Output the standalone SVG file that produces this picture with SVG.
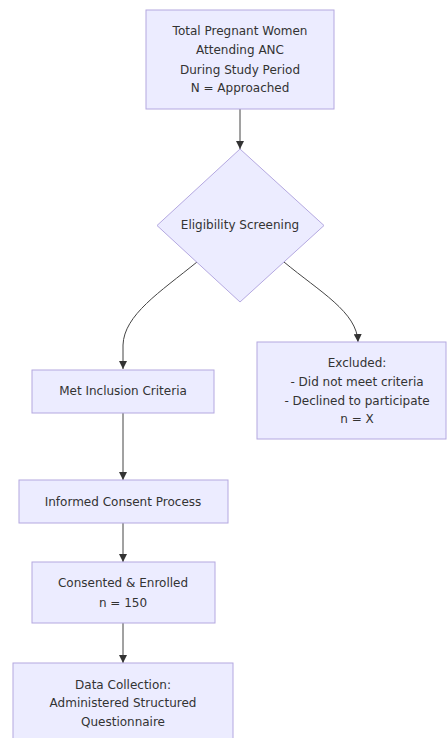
<svg xmlns="http://www.w3.org/2000/svg" width="448" height="738" viewBox="0 0 448 738">
<style>
.n{fill:#ECECFF;stroke:#B4A8E0;stroke-width:1}
.t{font-family:"DejaVu Sans",Verdana,sans-serif;font-size:12px;fill:#333;text-anchor:middle;dominant-baseline:central}
.e{fill:none;stroke:#444;stroke-width:1}
</style>
<defs>
<marker id="ah" viewBox="0 0 10 10" refX="10" refY="5" markerWidth="8" markerHeight="8" markerUnits="userSpaceOnUse" orient="auto">
<path d="M0,0 L10,5 L0,10 z" fill="#333"/>
</marker>
</defs>
<rect width="448" height="738" fill="#fff"/>
<g id="edges">
<path class="e" d="M240,109 L240,149" marker-end="url(#ah)"/>
<path class="e" d="M197,262 C160,292 124,315 123,345 L123,369" marker-end="url(#ah)"/>
<path class="e" d="M284,262 C320,292 357,312 358,342" marker-end="url(#ah)"/>
<path class="e" d="M123,413 L123,480" marker-end="url(#ah)"/>
<path class="e" d="M123,523 L123,562" marker-end="url(#ah)"/>
<path class="e" d="M123,623 L123,663" marker-end="url(#ah)"/>
</g>
<g id="total">
<rect class="n" x="146" y="10" width="188" height="99"/>
<text class="t" x="240" y="31">Total Pregnant Women</text>
<text class="t" x="240" y="50">Attending ANC</text>
<text class="t" x="240" y="70">During Study Period</text>
<text class="t" x="240" y="88">N = Approached</text>
</g>
<g id="screening">
<polygon class="n" points="240,149 324,225.5 240,302 157,225.5"/>
<text class="t" x="240" y="225">Eligibility Screening</text>
</g>
<g id="met">
<rect class="n" x="32" y="370" width="182" height="43"/>
<text class="t" x="123" y="391">Met Inclusion Criteria</text>
</g>
<g id="excluded">
<rect class="n" x="257" y="342" width="189" height="97"/>
<text class="t" x="357" y="363">Excluded:</text>
<text class="t" x="357" y="382">- Did not meet criteria</text>
<text class="t" x="357" y="401">- Declined to participate</text>
<text class="t" x="357" y="419">n = X</text>
</g>
<g id="consent">
<rect class="n" x="19" y="480" width="209" height="43"/>
<text class="t" x="123" y="502">Informed Consent Process</text>
</g>
<g id="enrolled">
<rect class="n" x="32" y="562" width="183" height="61"/>
<text class="t" x="123" y="583">Consented &amp; Enrolled</text>
<text class="t" x="123" y="603">n = 150</text>
</g>
<g id="data">
<rect class="n" x="13" y="663" width="220" height="90"/>
<text class="t" x="123" y="685">Data Collection:</text>
<text class="t" x="123" y="703">Administered Structured</text>
<text class="t" x="123" y="722">Questionnaire</text>
</g>
</svg>
